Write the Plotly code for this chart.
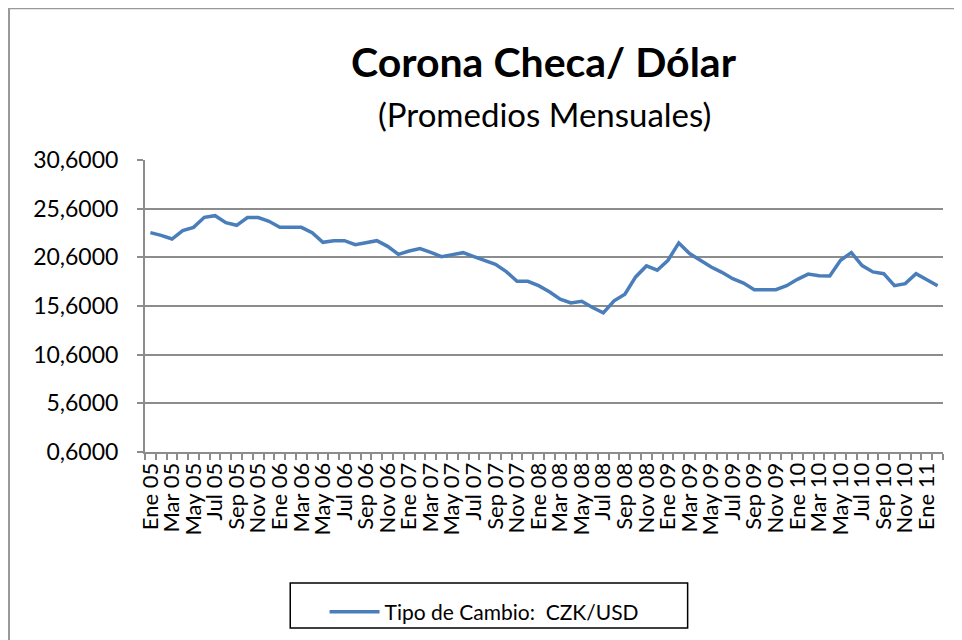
import plotly.graph_objects as go

# monthly labels Jan 2005 - Feb 2011
month_names = ['Ene', 'Feb', 'Mar', 'Abr', 'May', 'Jun',
               'Jul', 'Ago', 'Sep', 'Oct', 'Nov', 'Dic']
years = ['05', '06', '07', '08', '09', '10', '11']
months = [f'{m} {y}' for y in years for m in month_names][:74]

czk_usd = [
    23.14, 22.86, 22.48, 23.34, 23.68, 24.71, 24.88, 24.16, 23.89, 24.68,
    24.68, 24.30, 23.68, 23.68, 23.68, 23.14, 22.14, 22.31, 22.31, 21.90,
    22.10, 22.31, 21.73, 20.91, 21.25, 21.50, 21.12, 20.67, 20.88, 21.08,
    20.67, 20.30, 19.88, 19.13, 18.13, 18.13, 17.69, 17.06, 16.31, 15.92,
    16.09, 15.44, 14.90, 16.13, 16.81, 18.59, 19.72, 19.28, 20.30, 22.08,
    20.99, 20.30, 19.60, 19.06, 18.41, 17.96, 17.28, 17.28, 17.28, 17.69,
    18.34, 18.88, 18.71, 18.68, 20.30, 21.08, 19.75, 19.10, 18.92, 17.69,
    17.90, 18.92, 18.33, 17.69,
]

y_ticks = [0.6, 5.6, 10.6, 15.6, 20.6, 25.6, 30.6]

FONT = 'Lato'
GRID = '#8c8c8c'

x_idx = list(range(len(czk_usd)))
label_idx = x_idx[::2]
label_txt = [months[i] for i in label_idx]

fig = go.Figure()

fig.add_trace(go.Scatter(
    x=x_idx,
    y=czk_usd,
    mode='lines',
    name='Tipo de Cambio:\u00a0\u00a0CZK/USD',
    line=dict(color='#4a7ebb', width=3.5),
    hoverinfo='skip'
))

# page body has an 8px margin, so margins are shifted back by 8px
fig.update_layout(
    width=962,
    height=640,
    margin=dict(l=137, r=27, t=152, b=196, autoexpand=False),
    paper_bgcolor='white',
    plot_bgcolor='white',
    separators=',.',
    font=dict(family=FONT, color='black', size=22),
    showlegend=True,
    legend=dict(
        orientation='h',
        x=0.225, xanchor='left',
        y=-0.478, yanchor='top',
        font=dict(family=FONT, size=21, color='black'),
        bgcolor='rgba(0,0,0,0)',
        itemwidth=50
    ),
    xaxis=dict(
        range=[-0.5, len(czk_usd) - 0.5],
        tickmode='array',
        tickvals=label_idx,
        ticktext=label_txt,
        tickangle=-90,
        ticks='',
        showgrid=False,
        zeroline=False,
        showline=True,
        linecolor=GRID,
        linewidth=2,
        automargin=False,
        tickfont=dict(family=FONT, size=22),
        minor=dict(tickmode='linear', tick0=-0.5, dtick=1,
                   ticks='outside', ticklen=6, tickcolor=GRID,
                   tickwidth=1.5, showgrid=False),
        fixedrange=True
    ),
    yaxis=dict(
        range=[0.6, 30.6],
        tickmode='array',
        tickvals=y_ticks,
        tickformat='.4f',
        ticks='outside',
        ticklen=6,
        tickcolor=GRID,
        tickwidth=1.5,
        showgrid=True,
        gridcolor=GRID,
        gridwidth=1.5,
        zeroline=False,
        showline=True,
        linecolor=GRID,
        linewidth=2,
        automargin=False,
        ticklabelstandoff=14,
        tickfont=dict(family=FONT, size=23),
        fixedrange=True
    ),
    annotations=[
        dict(text='<b>Corona Checa/ Dólar</b>', xref='paper', yref='paper',
             x=0.5, y=1.336, xanchor='center', yanchor='middle',
             showarrow=False, font=dict(family=FONT, size=41, color='black')),
        dict(text='(Promedios Mensuales)', xref='paper', yref='paper',
             x=0.5, y=1.158, xanchor='center', yanchor='middle',
             showarrow=False, font=dict(family=FONT, size=33, color='black')),
    ],
    shapes=[
        # outer chart frame
        dict(type='rect', xref='paper', yref='paper',
             x0=-0.1704, x1=1.04, y0=-0.7, y1=1.52,
             line=dict(color='#999999', width=2), layer='below'),
        # legend frame
        dict(type='rect', xref='paper', yref='paper',
             x0=0.182, x1=0.68, y0=-0.603, y1=-0.449,
             line=dict(color='black', width=1.5)),
    ],
    dragmode=False,
    hovermode=False
)

fig.write_html("out.html")
